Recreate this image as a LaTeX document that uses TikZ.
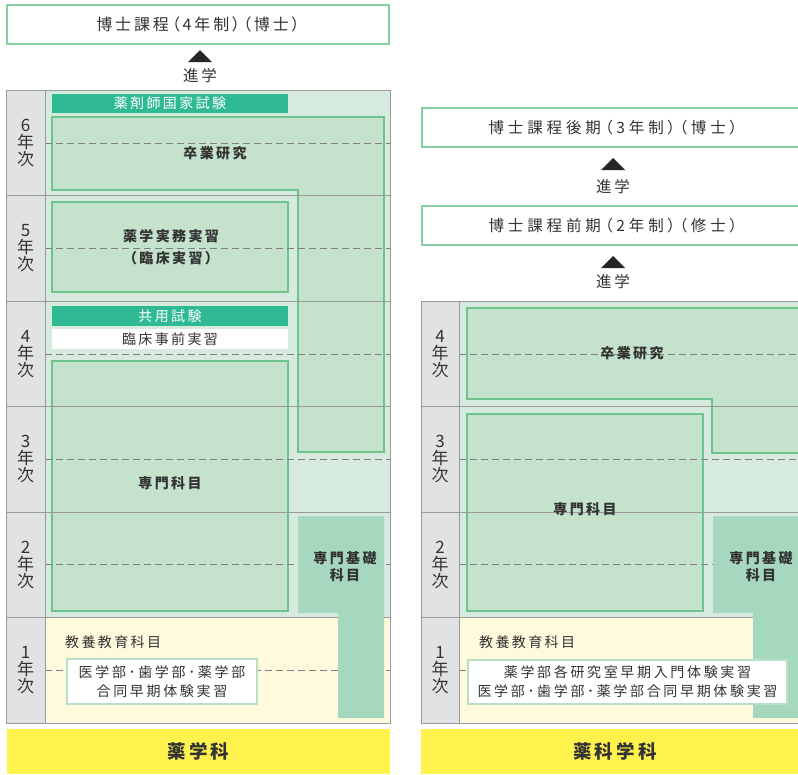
\documentclass[tikz,border=0pt]{standalone}
\usepackage{fontspec}
\setmainfont{Noto Sans CJK JP}[LetterSpace=17]
\newfontfamily\titlefont{Noto Sans CJK JP}[LetterSpace=18,RawFeature=+palt]
\newfontfamily\titlefontR{Noto Sans CJK JP}[LetterSpace=25,RawFeature=+palt]
\newfontfamily\boxfont{Noto Sans CJK JP}[LetterSpace=19]
\definecolor{gline}{HTML}{6EC48E}
\definecolor{gfill}{HTML}{C4E2CC}
\definecolor{gbg}{HTML}{D6EBDD}
\definecolor{barteal}{HTML}{2FBA93}
\definecolor{dkg}{HTML}{A6D8C0}
\definecolor{graycol}{HTML}{E1E2E4}
\definecolor{gridline}{HTML}{9A9A9A}
\definecolor{ybg}{HTML}{FFFADD}
\definecolor{ybar}{HTML}{FFF24C}
\definecolor{tborder}{HTML}{86CE9F}
\definecolor{wborder}{HTML}{B8E0C6}
\definecolor{txt}{HTML}{333333}
\begin{document}
\begin{tikzpicture}[x=1pt,y=-1pt,
  every node/.style={inner sep=0pt,text=txt},
  gbox/.style={fill=gfill,draw=gline,line width=2.5pt},
  sepline/.style={draw=gridline,line width=0.8pt},
  midline/.style={draw=gray,line width=0.8pt,dash pattern=on 7pt off 4pt},
  topbox/.style={draw=tborder,fill=white,line width=2.5pt,minimum width=382pt,minimum height=39pt},
  tealbar/.style={fill=barteal,text=white,minimum width=236pt,minimum height=19.5pt,font=\fontsize{14}{16}\selectfont},
  whitebar/.style={fill=white,minimum width=236pt,minimum height=20pt,font=\fontsize{14}{16}\selectfont},
  inboxtxt/.style={align=center,font=\bfseries\fontsize{14}{17}\selectfont},
  bodytxt/.style={align=center,font=\fontsize{14}{19}\selectfont},
  yearlbl/.style={align=center,font=\fontsize{17}{17}\selectfont},
  shingaku/.style={font=\fontsize{15.5}{18}\selectfont},
  ybarnode/.style={fill=ybar,minimum height=45pt,font=\bfseries\fontsize{18.5}{20}\selectfont},
  wbox/.style={draw=wborder,fill=white,line width=1.5pt,align=center,font=\boxfont\fontsize{14}{19}\selectfont}]
\useasboundingbox (0,0) rectangle (798,774);
\clip (0,0) rectangle (798,774);

% ================= LEFT PANEL =================
\node[topbox,font=\titlefont\fontsize{16}{18}\selectfont] (hakaseL) at (198,24.5) {博士課程（4年制）（博士）};
\fill[black!85] (188,62) -- (212,62) -- (200,50) -- cycle;
\node[shingaku] (shinL) at (200,76) {進学};

\fill[gbg] (45,90) rectangle (390,617.5);
\fill[ybg] (45,617.5) rectangle (390,723);
\fill[graycol] (6,90) rectangle (45,723);

\draw[gbox] (52,117) -- (384,117) -- (384,452) -- (298,452) -- (298,190) -- (52,190) -- cycle;
\draw[gbox] (52,202) rectangle (288,292);
\draw[gbox] (52,361) rectangle (288,611);

\foreach \m in {143,248.5,354,459.5,564.5,670}{\draw[midline] (45,\m) -- (390,\m);}
\foreach \s in {195.5,301,406.5,512,617.5}{\draw[sepline] (6,\s) -- (390,\s);}
\draw[sepline] (6,90) rectangle (390,723);
\draw[sepline] (45,90) -- (45,723);

\fill[dkg] (298,516) -- (384,516) -- (384,718) -- (338,718) -- (338,613) -- (298,613) -- cycle;

\node[tealbar] (kokka) at (170,103.5) {薬剤師国家試験};
\node[tealbar] (kyoyo) at (170,316) {共用試験};
\node[whitebar] (rinsho) at (170,339) {臨床事前実習};

\node[inboxtxt] (sotsuL) at (215,153) {卒業研究};
\node[inboxtxt,font=\bfseries\fontsize{14}{22}\selectfont] (jitsumu) at (171,247) {薬学実務実習\\（臨床実習）};
\node[inboxtxt] (senmonL) at (170,483) {専門科目};
\node[inboxtxt] (kisoL) at (345,566.5) {専門基礎\\科目};

\node[bodytxt,anchor=west] (kyoyoL) at (65,642) {教養教育科目};
\node[wbox,minimum width=190pt,minimum height=45pt] (sokiL) at (162,681.5) {医学部･歯学部･薬学部\\合同早期体験実習};

\node[yearlbl] (y6L) at (25.5,143) {6\\年\\次};
\node[yearlbl] (y5L) at (25.5,248.5) {5\\年\\次};
\node[yearlbl] (y4L) at (25.5,354) {4\\年\\次};
\node[yearlbl] (y3L) at (25.5,459.5) {3\\年\\次};
\node[yearlbl] (y2L) at (25.5,564.5) {2\\年\\次};
\node[yearlbl] (y1L) at (25.5,670) {1\\年\\次};

\node[ybarnode,minimum width=383pt] (yakugaku) at (198.5,751.5) {薬学科};

% ================= RIGHT PANEL =================
\node[topbox,font=\titlefontR\fontsize{15.5}{18}\selectfont] (kouki) at (613,127.5) {博士課程後期（3年制）（博士）};
\fill[black!85] (601,170) -- (625,170) -- (613,158) -- cycle;
\node[shingaku] (shinR1) at (613,187) {進学};
\node[topbox,font=\titlefontR\fontsize{15.5}{18}\selectfont] (zenki) at (613,225.5) {博士課程前期（2年制）（修士）};
\fill[black!85] (601,268) -- (625,268) -- (613,256) -- cycle;
\node[shingaku] (shinR2) at (613,282) {進学};

\fill[gbg] (459,301) rectangle (810,617.5);
\fill[ybg] (459,617.5) rectangle (810,723);
\fill[graycol] (421,301) rectangle (459,723);

\draw[gbox] (467,308) -- (810,308) -- (810,453) -- (712,453) -- (712,399) -- (467,399) -- cycle;
\draw[gbox] (467,414) rectangle (703,611);

\foreach \m in {354,459.5,564.5,670}{\draw[midline] (459,\m) -- (810,\m);}
\foreach \s in {406.5,512,617.5}{\draw[sepline] (421,\s) -- (810,\s);}
\draw[sepline] (810,301) -- (421,301) -- (421,723) -- (810,723);
\draw[sepline] (459,301) -- (459,723);

\fill[dkg] (713,516) -- (810,516) -- (810,718) -- (753,718) -- (753,613) -- (713,613) -- cycle;

\node[inboxtxt] (sotsuR) at (632,353) {卒業研究};
\node[inboxtxt] (senmonR) at (585,509) {専門科目};
\node[inboxtxt] (kisoR) at (761,567) {専門基礎\\科目};

\node[bodytxt,anchor=west] (kyoyoR) at (479,642) {教養教育科目};
\node[wbox,minimum width=319pt,minimum height=44pt] (sokiR) at (627.5,682) {薬学部各研究室早期入門体験実習\\医学部･歯学部･薬学部合同早期体験実習};

\node[yearlbl] (y4R) at (440,354) {4\\年\\次};
\node[yearlbl] (y3R) at (440,459.5) {3\\年\\次};
\node[yearlbl] (y2R) at (440,564.5) {2\\年\\次};
\node[yearlbl] (y1R) at (440,670) {1\\年\\次};

\node[ybarnode,minimum width=388pt] (yakkagaku) at (615,751.5) {薬科学科};
\end{tikzpicture}
\end{document}
